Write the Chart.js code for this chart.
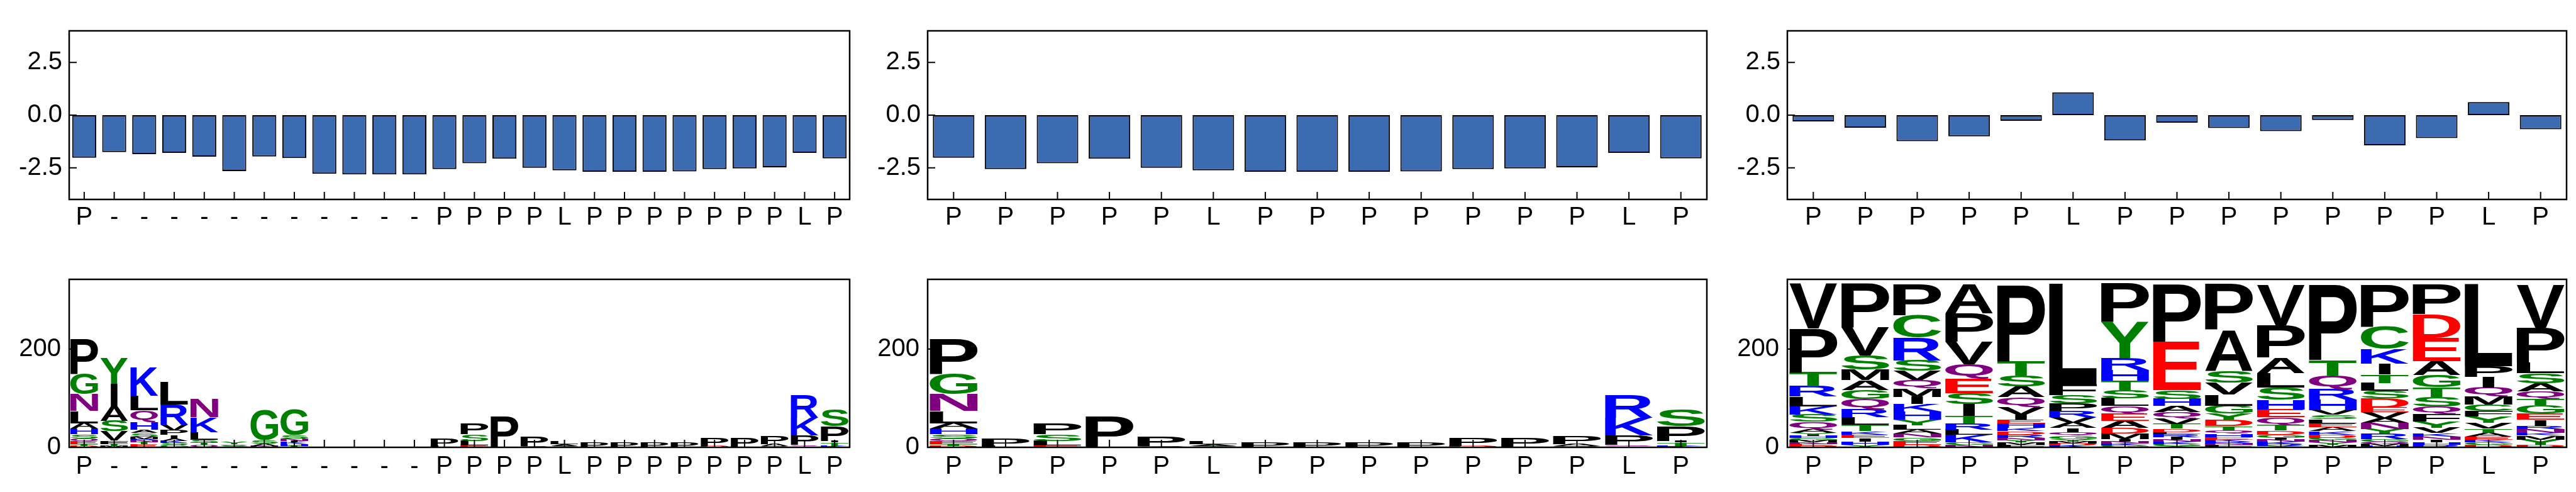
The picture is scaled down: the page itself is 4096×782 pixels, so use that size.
<!DOCTYPE html>
<html>
<head>
<meta charset="utf-8">
<script src="https://cdn.jsdelivr.net/npm/chart.js@4.4.1/dist/chart.umd.min.js"></script>
<style>
  html, body { margin: 0; padding: 0; background: #fff; }
  body { width: 4096px; height: 782px; position: relative; overflow: hidden; }
  .panel { position: absolute; }
</style>
</head>
<body>
<div class="panel" id="p1"><canvas id="c1"></canvas></div>
<div class="panel" id="p2"><canvas id="c2"></canvas></div>
<div class="panel" id="p3"><canvas id="c3"></canvas></div>
<div class="panel" id="p4"><canvas id="c4"></canvas></div>
<div class="panel" id="p5"><canvas id="c5"></canvas></div>
<div class="panel" id="p6"><canvas id="c6"></canvas></div>
<script>
// positions of the full alignment (gaps shown as '-')
const posLabels = ['P','-','-','-','-','-','-','-','-','-','-','-','P','P','P','P','L','P','P','P','P','P','P','P','L','P'];
const scoreA = [-2.02,-1.75,-1.85,-1.79,-1.97,-2.66,-1.96,-2.04,-2.78,-2.81,-2.81,-2.81,-2.56,-2.28,-2.07,-2.50,-2.62,-2.69,-2.69,-2.69,-2.67,-2.56,-2.53,-2.48,-1.79,-2.05];

// right hand panels
const posLabelsC = ['P','P','P','P','P','L','P','P','P','P','P','P','P','L','P'];
const scoreC = [-0.30,-0.60,-1.24,-1.01,-0.27,1.08,-1.20,-0.36,-0.61,-0.76,-0.23,-1.43,-1.09,0.62,-0.67];

// logo stacks, letters listed top to bottom
const logoALetters = ['PGNLAHSQETD','YIASVFTM','KLQHASMRNTE','LRVPIAKSG','NKLSTQ','YQS','GSAN','GSNIKHT','N','Q','','',
  'PL','PSLEG','P','PQ','LAS','P','P','P','P','PD','PN','PAQ','RKPQN','SPITK'];
const logoAHeights = [
  [71,42,34,25,11,11,9,6,6,3,3],[52,46,29,21,19,7,4,3],[58,30,24,15,7,7,5,3,4,4,6],[46,41,12,9,8,4,4,4,5],
  [37,30,15,7,4,5],[5,3,3],[62,7,5,3],[53,7,5,3,4,3,3],[2],[1.5],[],[],
  [15,3],[21,14,9,3,1],[63],[20,3],[7,3,3],[9],[9],[9],[9],[16,3],[18,1],[17,4,3],[46,36,19,3,2],[34,30,3,7,3]
];

const logoCLetters = ['VPTRLKSQAYIHGMNED','PVSMAGQRLTKEIHY','PCRSVQMIKHYLANGED','APVQESITRLKGN','PTSAQVIEHKDRNYMF',
  'LFSPRVAIQGYMDK','PYRHTSLQEADMINKG','PESHAQVTDLRINKGY','PASVLGYDTQHEKRNF','VPALSHEQTDGINKRY',
  'PTQRHVSLEAKDGNYM','PCKITLSDEVANYRGQMH','PDEAGTSQFYVKNIHR','LPIQMCFYVTAEKGD','VPLSAQTGEIRNKMYD'];
const logoCHeights = [
  [91,89,29,21,20,16,15,15,8,3,3,4,5,4,3,4,3],
  [90,57,28,22,20,19,21,16,15,13,7,7,7,7,5],
  [63,46,46,21,19,17,17,15,15,16,12,9,8,8,7,8,5],
  [60,57,46,30,29,22,24,15,13,11,15,5,5],
  [156,29,22,22,20,15,10,8,9,7,7,7,5,4,5,5],
  [205,22,17,15,13,11,11,8,7,7,5,4,4,4],
  [79,73,24,22,19,17,16,15,15,15,11,11,5,4,4,4],
  [118,99,17,15,13,12,12,9,7,4,6,6,4,4,4,3],
  [94,83,24,25,22,16,13,13,8,7,7,5,5,3,3,5],
  [82,66,32,29,25,20,16,15,12,8,7,4,4,4,4,3],
  [153,32,28,21,22,9,9,8,8,8,7,7,4,5,5,5],
  [85,46,30,22,17,16,15,19,9,13,9,13,9,12,4,5,4,3],
  [61,48,48,28,25,19,20,15,15,13,11,7,7,5,5,5],
  [167,22,21,19,16,13,11,13,12,8,8,7,5,5,5],
  [87,71,22,20,17,15,13,17,13,12,7,8,5,8,11,5]
];

// middle column = same alignment with the gap positions dropped
const keep = posLabels.map((s, i) => s !== '-' ? i : -1).filter(i => i >= 0);
const pick = arr => keep.map(i => arr[i]);

const AXIS_W = 100, AXIS_H = 60, PAD_T = 6, PAD_R = 8, TICK_LEN = 12;
const colPos = [[110, 1241], [1475, 1239], [2842, 1239]];
const rowPos = [[20, 297], [413, 298]];
const tickFont = { family: 'Liberation Sans', size: 40 };
const LETTER_FONT = 'bold 200px "Liberation Sans"';

function place(id, col, row) {
  const el = document.getElementById(id);
  el.style.left = (colPos[col][0] - AXIS_W) + 'px';
  el.style.top = (rowPos[row][0] - PAD_T) + 'px';
  el.style.width = (AXIS_W + colPos[col][1] + PAD_R) + 'px';
  el.style.height = (PAD_T + rowPos[row][1] + AXIS_H) + 'px';
}
place('p1', 0, 0); place('p2', 1, 0); place('p3', 2, 0);
place('p4', 0, 1); place('p5', 1, 1); place('p6', 2, 1);

function letterColor(ch) {
  if ('GSTYC'.includes(ch)) return '#008000';
  if ('NQ'.includes(ch)) return '#800080';
  if ('KRH'.includes(ch)) return '#0000ff';
  if ('DE'.includes(ch)) return '#ff0000';
  return '#000000';
}

const glyphCache = {};
function glyph(ctx, ch) {
  if (!glyphCache[ch]) {
    ctx.font = LETTER_FONT;
    const m = ctx.measureText(ch);
    glyphCache[ch] = { l: m.actualBoundingBoxLeft, r: m.actualBoundingBoxRight,
                       a: m.actualBoundingBoxAscent, d: m.actualBoundingBoxDescent };
  }
  return glyphCache[ch];
}

const letterPlugin = {
  id: 'letters',
  afterDatasetsDraw(chart) {
    const ctx = chart.ctx;
    ctx.save();
    ctx.textAlign = 'left';
    ctx.textBaseline = 'alphabetic';
    chart.data.datasets.forEach((ds, di) => {
      chart.getDatasetMeta(di).data.forEach((bar, i) => {
        const ch = ds.chars[i];
        if (!ch) return;
        const { x, y, base, width } = bar.getProps(['x', 'y', 'base', 'width'], true);
        const h = Math.abs(base - y);
        if (h < 0.4) return;
        const g = glyph(ctx, ch);
        // I keeps its narrow stroke instead of being stretched into a block
        const w = ch === 'I' ? width * 0.25 : width;
        ctx.save();
        ctx.translate(x - w / 2, Math.min(y, base));
        ctx.scale(w / (g.l + g.r), h / (g.a + g.d));
        ctx.font = LETTER_FONT;
        ctx.fillStyle = letterColor(ch);
        ctx.fillText(ch, g.l, g.a);
        ctx.restore();
      });
    });
    ctx.restore();
  }
};

// box round the plot + inward ticks
const framePlugin = {
  id: 'frame',
  afterDatasetsDraw(chart) {
    const { ctx, chartArea: a, scales: { x, y } } = chart;
    ctx.save();
    ctx.strokeStyle = '#000';
    ctx.lineWidth = 2;
    ctx.beginPath();
    x.ticks.forEach((t, i) => {
      const px = x.getPixelForTick(i);
      ctx.moveTo(px, a.bottom); ctx.lineTo(px, a.bottom - TICK_LEN);
    });
    y.ticks.forEach((t, i) => {
      const py = y.getPixelForTick(i);
      ctx.moveTo(a.left, py); ctx.lineTo(a.left + TICK_LEN, py);
    });
    ctx.stroke();
    ctx.lineWidth = 2.5;
    ctx.strokeRect(a.left, a.top, a.right - a.left, a.bottom - a.top);
    ctx.restore();
  }
};

function axes(yMin, yMax, yTicks, fmt, xPad, yPad, stacked) {
  return {
    x: {
      stacked,
      grid: { display: false, drawTicks: false },
      border: { display: false },
      ticks: { font: tickFont, color: '#000', padding: xPad, maxRotation: 0, autoSkip: false },
      afterFit: s => { s.height = AXIS_H; }
    },
    y: {
      stacked,
      min: yMin, max: yMax,
      grid: { display: false, drawTicks: false },
      border: { display: false },
      afterBuildTicks: s => { s.ticks = yTicks.map(v => ({ value: v })); },
      ticks: { font: tickFont, color: '#000', padding: yPad, callback: fmt },
      afterFit: s => { s.width = AXIS_W; }
    }
  };
}

const commonOpts = {
  responsive: true,
  maintainAspectRatio: false,
  animation: false,
  layout: { padding: { top: PAD_T, right: PAD_R, left: 0, bottom: 0 } },
  plugins: { legend: { display: false }, tooltip: { enabled: false } }
};

function barChart(canvasId, labels, values) {
  new Chart(document.getElementById(canvasId), {
    type: 'bar',
    data: {
      labels,
      datasets: [{
        data: values,
        backgroundColor: '#3b6bb0',
        borderColor: '#000',
        borderWidth: 2,
        borderSkipped: false,
        barPercentage: 0.8,
        categoryPercentage: 1
      }]
    },
    options: { ...commonOpts, scales: axes(-4, 4, [-2.5, 0, 2.5], v => v.toFixed(1), 5, 11, false) },
    plugins: [framePlugin]
  });
}

function logoDatasets(letters, heights) {
  const depth = Math.max(...letters.map(s => s.length));
  const sets = [];
  for (let k = 0; k < depth; k++) {
    const chars = letters.map(s => s.length - 1 - k >= 0 ? s[s.length - 1 - k] : '');
    const data = heights.map((h, i) => {
      const j = letters[i].length - 1 - k;
      return j >= 0 ? h[j] : 0;
    });
    sets.push({ data, chars, backgroundColor: 'rgba(0,0,0,0)', borderWidth: 0,
                barPercentage: 0.92, categoryPercentage: 1 });
  }
  return sets;
}

function logoChart(canvasId, labels, letters, heights) {
  new Chart(document.getElementById(canvasId), {
    type: 'bar',
    data: { labels, datasets: logoDatasets(letters, heights) },
    options: { ...commonOpts, scales: axes(0, 342, [0, 200], v => String(v), 7, 13, true) },
    plugins: [letterPlugin, framePlugin]
  });
}

barChart('c1', posLabels, scoreA);
barChart('c2', pick(posLabels), pick(scoreA));
barChart('c3', posLabelsC, scoreC);
logoChart('c4', posLabels, logoALetters, logoAHeights);
logoChart('c5', pick(posLabels), pick(logoALetters), pick(logoAHeights));
logoChart('c6', posLabelsC, logoCLetters, logoCHeights);
</script>
</body>
</html>
